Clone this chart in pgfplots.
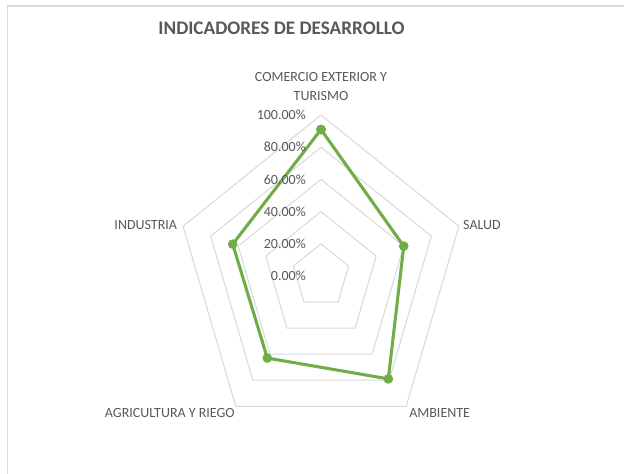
\documentclass[border=0pt]{standalone}
\usepackage{pgfplots}
\pgfplotsset{compat=1.18}
\usepackage{fontspec}
\setmainfont{Carlito}
\definecolor{txt}{HTML}{595959}
\definecolor{grd}{HTML}{D9D9D9}
\definecolor{grn}{HTML}{70AD47}
\begin{document}
\begin{tikzpicture}[x=1pt,y=1pt]
\useasboundingbox (-240.75,-148.5) rectangle (227.25,207);
\fill[white] (-240.75,-148.5) rectangle (227.25,207);
\draw[grd, line width=0.9pt] (-235.1,-148.5) -- (-235.1,202.5) -- (227.25,202.5);
\begin{axis}[x=1.0875pt, y=1.2075pt, anchor=origin, at={(0pt,0pt)}, hide axis,
  xmin=-100, xmax=100, ymin=-100, ymax=100, clip=false]
\foreach \r in {20,40,60,80,100}{
  \edef\temp{\noexpand\addplot[grd, line width=0.75pt, data cs=polar, forget plot] coordinates {(90,\r) (18,\r) (-54,\r) (-126,\r) (162,\r) (90,\r)};}
  \temp
}
\addplot[grn, line width=2.3pt, line join=round, mark=*, mark size=3.3pt,
  mark options={solid, fill=grn, draw=grn, line width=0.6pt}, data cs=polar]
  coordinates {(90,91) (18,60) (-54,79) (-126,63) (162,64) (90,91)};
\foreach \v/\l in {0/0.00,20/20.00,40/40.00,60/60.00,80/80.00,100/100.00}{
  \edef\temp{\noexpand\node[anchor=east, inner sep=0pt, text=txt, font=\noexpand\fontsize{10.5}{12}\noexpand\selectfont] at (axis cs:-10.3,\v) {\l\noexpand\%};}
  \temp
}
\node[align=center, text=txt, inner sep=0pt, font=\fontsize{10.5}{13.7}\selectfont] at (axis cs:0,117.7) {COMERCIO EXTERIOR Y\\TURISMO};
\node[anchor=west, text=txt, inner sep=0pt, font=\fontsize{10.5}{12}\selectfont] at (axis cs:97.9,31.7) {SALUD};
\node[anchor=east, text=txt, inner sep=0pt, font=\fontsize{10.5}{12}\selectfont] at (axis cs:-99.1,31.7) {INDUSTRIA};
\node[anchor=east, text=txt, inner sep=0pt, font=\fontsize{10.5}{12}\selectfont] at (axis cs:-59.3,-85.1) {AGRICULTURA Y RIEGO};
\node[anchor=west, text=txt, inner sep=0pt, font=\fontsize{10.5}{12}\selectfont] at (axis cs:60.7,-85.1) {AMBIENTE};
\node[text=txt, inner sep=0pt, font=\bfseries\fontsize{14.4}{17}\selectfont] at (axis cs:-27.2,154) {INDICADORES DE DESARROLLO};
\end{axis}
\end{tikzpicture}
\end{document}
